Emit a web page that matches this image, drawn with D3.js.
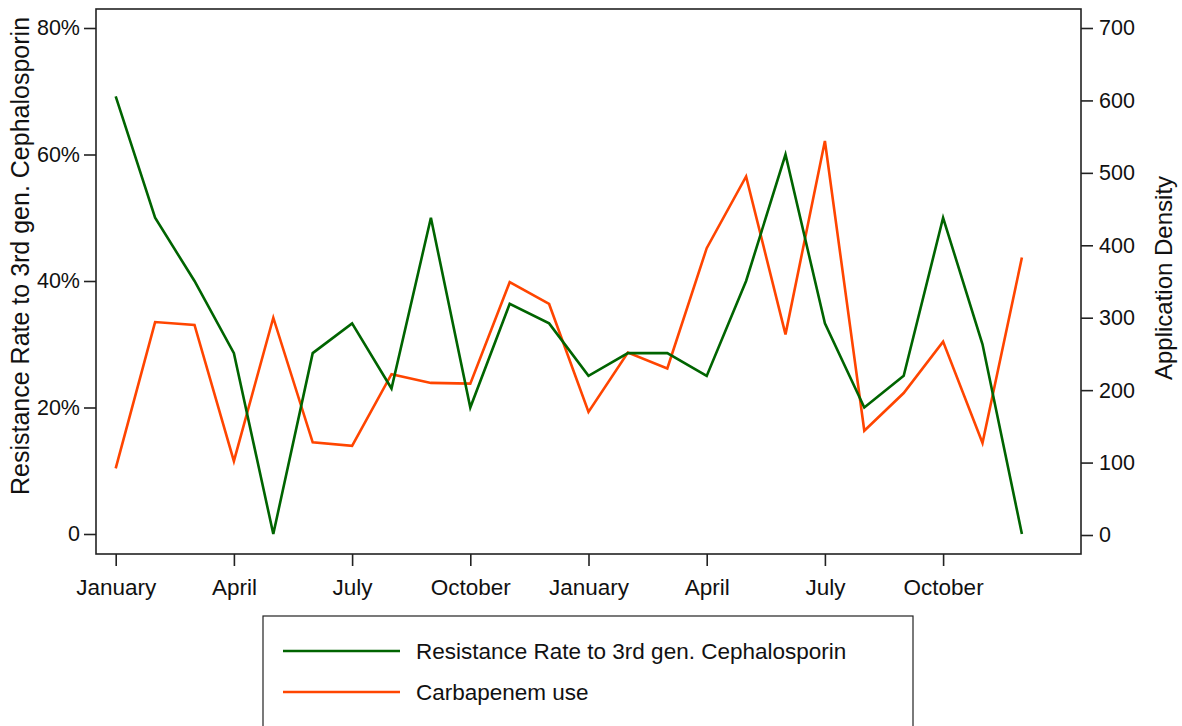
<!DOCTYPE html>
<html><head><meta charset="utf-8">
<script src="https://cdn.jsdelivr.net/npm/d3@7"></script>
<style>body{margin:0;background:#fff}svg{display:block}text{font-family:"Liberation Sans",Arial,sans-serif;fill:#111}</style>
</head><body>
<script>
const months = ["January","February","March","April","May","June","July","August","September","October","November","December",
 "January","February","March","April","May","June","July","August","September","October","November","December"];
const resistance = [69.2,50,40,28.6,0,28.6,33.3,23,50,20,36.4,33.3,25,28.6,28.6,25,40,60,33.3,20,25,50,30,0];
const carbapenem = [92,294,290,102,300,128,123,222,210,209,349,319,170,252,230,396,495,277,544,144,196,267,127,383];
const tickIdx = [0,3,6,9,12,15,18,21];
const leftTicks = [0,20,40,60,80];
const rightTicks = [0,100,200,300,400,500,600,700];
const seriesNames = ["Resistance Rate to 3rd gen. Cephalosporin","Carbapenem use"];
const colors = ["#006400","#ff4500"];

const W=1182,H=726;
const L=96,R=1081,T=9,B=554;
const svg=d3.select("body").append("svg").attr("width",W).attr("height",H);
const x=d3.scaleLinear().domain([-0.5,24.5]).range([L,R]);
const yL=d3.scaleLinear().domain([0,80]).range([534,28]);
const yR=d3.scaleLinear().domain([0,700]).range([535,28]);

svg.append("rect").attr("x",L).attr("y",T).attr("width",R-L).attr("height",B-T)
  .attr("fill","none").attr("stroke","#222").attr("stroke-width",1.6);

const fs=22.5;
const gl=svg.append("g").attr("transform",`translate(${L},0)`)
  .call(d3.axisLeft(yL).tickValues(leftTicks).tickSize(12).tickPadding(4).tickFormat(d=>d===0?"0":d+"%"));
const gr=svg.append("g").attr("transform",`translate(${R},0)`)
  .call(d3.axisRight(yR).tickValues(rightTicks).tickSize(12).tickPadding(6));
const gb=svg.append("g").attr("transform",`translate(0,${B})`)
  .call(d3.axisBottom(x).tickValues(tickIdx).tickSize(12).tickPadding(13).tickFormat(i=>months[i]));
[gl,gr,gb].forEach(g=>{
  g.select(".domain").remove();
  g.selectAll(".tick line").attr("stroke","#222").attr("stroke-width",1.6);
  g.selectAll(".tick text").attr("font-size",fs).attr("fill","#111").attr("font-family","'Liberation Sans',Arial,sans-serif");
});
gl.selectAll(".tick text").attr("font-size",21.5);
gr.selectAll(".tick text").attr("font-size",21.5);

svg.append("text").attr("transform","translate(29,256) rotate(-90)").attr("text-anchor","middle")
  .attr("font-size",25).text("Resistance Rate to 3rd gen. Cephalosporin");
svg.append("text").attr("transform","translate(1172,278) rotate(-90)").attr("text-anchor","middle")
  .attr("font-size",24).text("Application Density");

const lineL=d3.line().x((d,i)=>x(i)).y(d=>yL(d));
const lineR=d3.line().x((d,i)=>x(i)).y(d=>yR(d));
svg.append("path").datum(carbapenem).attr("d",lineR).attr("fill","none").attr("stroke",colors[1]).attr("stroke-width",2.6);
svg.append("path").datum(resistance).attr("d",lineL).attr("fill","none").attr("stroke",colors[0]).attr("stroke-width",2.6);

svg.append("rect").attr("x",263).attr("y",616).attr("width",650).attr("height",140)
  .attr("fill","#fff").attr("stroke","#222").attr("stroke-width",1.2);
seriesNames.forEach((n,i)=>{
  const yy=651+i*41;
  svg.append("line").attr("x1",283).attr("x2",400).attr("y1",yy).attr("y2",yy).attr("stroke",colors[i]).attr("stroke-width",2.6);
  svg.append("text").attr("x",416).attr("y",yy).attr("dy","0.35em").attr("font-size",fs).text(n);
});
</script>
</body></html>
